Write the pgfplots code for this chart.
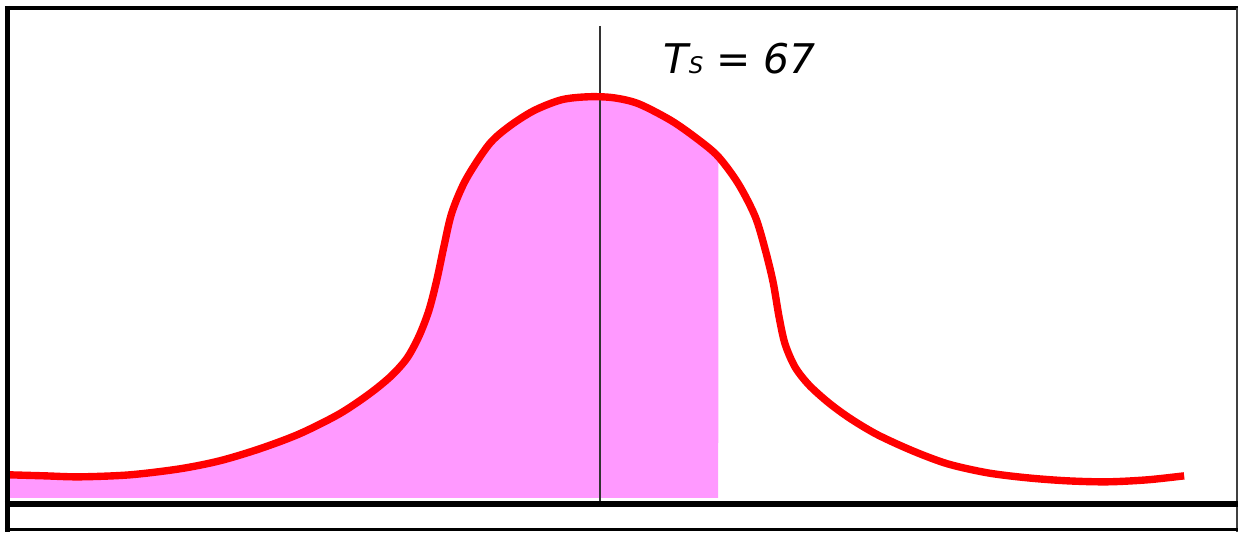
\documentclass[border=0pt]{standalone}
\usepackage{fontspec}
\setmainfont{DejaVu Sans}
\usepackage{pgfplots}
\pgfplotsset{compat=1.18}
\usepgfplotslibrary{fillbetween}
\definecolor{curvered}{HTML}{FF0000}
\definecolor{areapink}{HTML}{FF99FF}
\pgfplotstableread{
x y
10 476
45 477
80 478
130 476
180 470
220 462
260 450
300 435
340 415
370 395
392 377
408 359
420 337
430 311
438 280
445 247
453 213
467 180
490 145
510 127
535 111
563 100
590 97
615 98
640 104
673 121
700 140
720 157
740 184
757 217
767 250
775 283
781 318
787 345
797 368
811 386
831 404
853 420
880 436
915 452
950 465
990 474
1030 479
1070 482
1110 483
1150 481
1187 477
}\curvedata
\begin{document}
\begin{tikzpicture}
\begin{axis}[
  scale only axis, width=620.5pt, height=266.5pt,
  xmin=0, xmax=1241, ymin=0, ymax=533, y dir=reverse,
  hide axis, clip=false,
]
\path (axis cs:0,0) rectangle (axis cs:1241,533);
% shaded area up to x = 720
\addplot[name path=curve, draw=none, smooth, forget plot] table {\curvedata};
\addplot[name path=base, draw=none, forget plot] coordinates {(10,499) (1187,499)};
\addplot[fill=areapink, draw=none] fill between[of=curve and base, soft clip={domain=10:720}];
% threshold line
\addplot[gray!40!black, line width=0.7pt] coordinates {(601.5,26) (601.5,505)};
% curve
\addplot[curvered, line width=3.7pt, smooth] table {\curvedata};
% frame
\draw[black, line width=2.5pt] (axis cs:7.5,6) -- (axis cs:7.5,533);
\draw[black, line width=2pt] (axis cs:5,8) -- (axis cs:1241,8);
\draw[gray!50!black, line width=1pt] (axis cs:1239.5,8) -- (axis cs:1239.5,533);
\draw[black, line width=3pt] (axis cs:5,505) -- (axis cs:1241,505);
\draw[black, line width=1.5pt] (axis cs:5,530.5) -- (axis cs:1241,530.5);
\node[anchor=base west, inner sep=0pt, font=\fontsize{20.5}{23}\selectfont\itshape]
  at (axis cs:665,74) {T{\fontsize{11.5}{13}\selectfont S} = 67};
\end{axis}
\end{tikzpicture}
\end{document}
